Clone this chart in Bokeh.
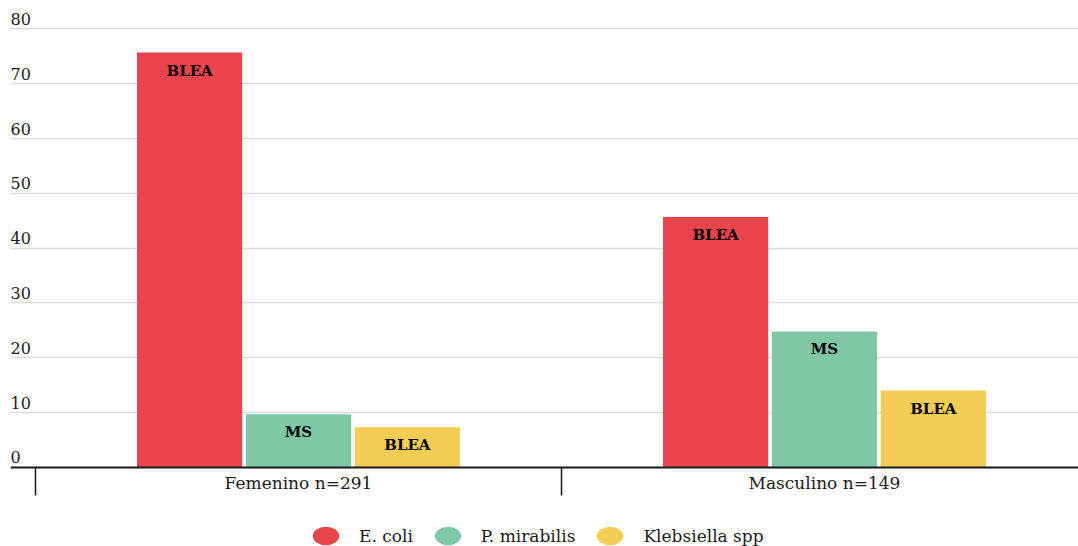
from bokeh.plotting import figure
from bokeh.models import ColumnDataSource, Range1d, FixedTicker, Grid, Legend, LegendItem
from bokeh.core.properties import value
from bokeh.transform import dodge
from bokeh.embed import file_html
from bokeh.resources import INLINE

# ---- data ----
categories = ["Femenino n=291", "Masculino n=149"]
series_names = ["E. coli", "P. mirabilis", "Klebsiella spp"]
ecoli = [75.7, 45.7]
mirabilis = [9.7, 24.8]
klebsiella = [7.3, 14.0]
ecoli_labels = ["BLEA", "BLEA"]
mirabilis_labels = ["MS", "MS"]
klebsiella_labels = ["BLEA", "BLEA"]
y_ticks = [0, 10, 20, 30, 40, 50, 60, 70, 80]
y_tick_labels = ["0", "10", "20", "30", "40", "50", "60", "70", "80"]

# ---- style ----
colors = ["#E9434B", "#80C7A7", "#F2CC55"]
FONT = "DejaVu Serif"
TXT = "#1a1a1a"
offsets = [-0.207, 0.0, 0.207]
bar_w = 0.2

idx = list(range(len(categories)))
src = ColumnDataSource(dict(
    x=idx,
    ecoli=ecoli, mirabilis=mirabilis, klebsiella=klebsiella,
    ecoli_l=ecoli_labels, mirabilis_l=mirabilis_labels, klebsiella_l=klebsiella_labels,
))

x_range = Range1d(-0.5475, len(categories) - 0.517)
p = figure(width=1078, height=546, x_range=x_range, y_range=Range1d(-14.45, 85.2),
           output_backend="svg", toolbar_location=None, y_axis_location=None,
           min_border_left=10, min_border_right=0, min_border_top=0, min_border_bottom=0,
           outline_line_color=None)
for g in p.grid:
    g.visible = False
p.add_layout(Grid(dimension=1, ticker=FixedTicker(ticks=y_ticks),
                  grid_line_color="#dcdcdc", grid_line_width=1.5))

cols = ["ecoli", "mirabilis", "klebsiella"]
for i, c in enumerate(cols):
    p.vbar(x=dodge("x", offsets[i]), top=c, width=bar_w, source=src,
           fill_color=colors[i], line_color=None)
    p.text(x=dodge("x", offsets[i]), y=c, text=c + "_l", source=src,
           text_align="center", text_baseline="top", y_offset=9,
           text_font=value(FONT), text_font_style="bold", text_font_size="15px",
           text_color="black")

# y tick labels (drawn above the grid lines, inside the plot)
p.text(x=[x_range.start] * len(y_ticks), y=y_ticks, text=y_tick_labels,
       text_align="left", text_baseline="bottom", y_offset=-4,
       text_font=value(FONT), text_font_size="16px", text_color=TXT)

# x axis pinned at y = 0
ax = p.xaxis[0]
ax.fixed_location = 0
ax.ticker = FixedTicker(ticks=idx, minor_ticks=[i - 0.5 for i in idx] + [len(idx) - 0.5])
ax.major_label_overrides = {i: c for i, c in zip(idx, categories)}
ax.major_tick_out = 0
ax.major_tick_in = 0
ax.minor_tick_out = 28
ax.minor_tick_in = 0
ax.minor_tick_line_color = TXT
ax.minor_tick_line_width = 1.5
ax.axis_line_color = TXT
ax.axis_line_width = 2
ax.major_label_text_font = FONT
ax.major_label_text_font_size = "17px"
ax.major_label_text_color = TXT
ax.major_label_standoff = -22

# legend with ellipse markers (proxy renderers, not drawn in the plot)
items = []
nan = float("nan")
for i, name in enumerate(series_names):
    r = p.ellipse(x=[nan], y=[nan], width=26, height=18, width_units="screen",
                  height_units="screen", fill_color=colors[i], line_color=None)
    items.append(LegendItem(label=name, renderers=[r]))
legend = Legend(items=items, orientation="horizontal", location=(299, -6),
                glyph_width=33, glyph_height=33, label_standoff=17, spacing=18,
                padding=0, margin=0, border_line_color=None, background_fill_alpha=0,
                label_text_font=FONT, label_text_font_size="17px", label_text_color=TXT)
p.add_layout(legend, "center")

open("out.html", "w").write(file_html(p, INLINE))
